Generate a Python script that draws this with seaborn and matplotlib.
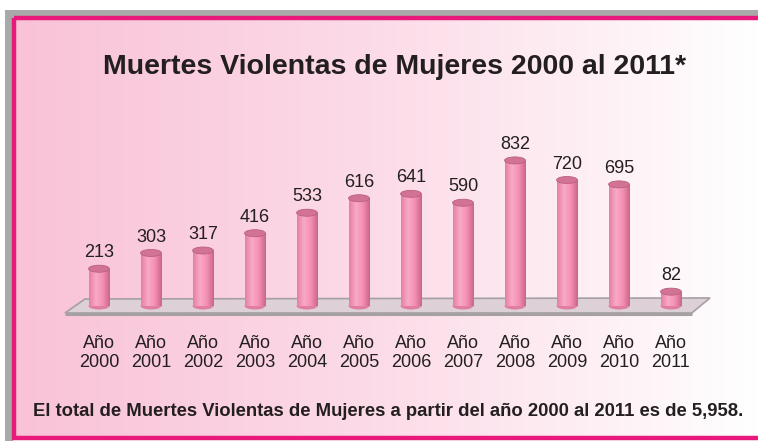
#! /usr/bin/env python3
# -*- coding: utf-8 -*-

import numpy as np
import pandas as pd
import matplotlib
matplotlib.use('Agg')
import matplotlib.pyplot as plt
from matplotlib.patches import Rectangle, Ellipse, Polygon
from matplotlib.colors import LinearSegmentedColormap
import seaborn as sns

# data
years = ['2000', '2001', '2002', '2003', '2004', '2005',
         '2006', '2007', '2008', '2009', '2010', '2011']
deaths = [213, 303, 317, 416, 533, 616, 641, 590, 832, 720, 695, 82]
tick_labels = ['Año\n' + y for y in years]
title = 'Muertes Violentas de Mujeres 2000 al 2011*'
footer = 'El total de Muertes Violentas de Mujeres a partir del año 2000 al 2011 es de 5,958.'

df = pd.DataFrame({'year': tick_labels, 'deaths': deaths})

sns.set_theme(style='white')
plt.rcParams['font.family'] = ['Liberation Sans', 'DejaVu Sans']

W, H = 758, 441
fig = plt.figure(figsize=(W / 100, H / 100), dpi=100)
fig.patch.set_facecolor('white')

# background frame (pixel coords)
bg = fig.add_axes([0, 0, 1, 1], zorder=-5)
bg.axis('off')
bg.add_patch(Rectangle((5, 10), W - 5, 8, color='#A9A9A9', lw=0))
bg.add_patch(Rectangle((5, 10), 8, H - 10, color='#A9A9A9', lw=0))
grad = np.linspace(0, 1, 256).reshape(1, -1)
pink_cmap = LinearSegmentedColormap.from_list('bgp', ['#F9C2D7', '#FCDCE8', '#FFFFFF'])
bg.imshow(grad, cmap=pink_cmap, extent=[14, W, 438, 18], aspect='auto', zorder=0)
bg.add_patch(Rectangle((14, 18), W + 20, 420, fill=False, ec='#E8197A', lw=3.2, zorder=2))
bg.set_xlim(0, W)
bg.set_ylim(H, 0)

# main axes
ax = fig.add_axes([47 / W, 1 - 316.5 / H, 676 / W, 185.5 / H])
ax.patch.set_alpha(0)
sns.barplot(data=df, x='year', y='deaths', color='#F38DB2', width=0.4,
            saturation=1, linewidth=0, edgecolor='none', ax=ax, zorder=3)

# floor
floor = Polygon([(-0.654, -40), (-0.27, 40), (11.75, 46), (11.40, -40)],
                closed=True, fc='#DDD0D6', ec='#A5A0A2', lw=1.2, zorder=1)
ax.add_patch(floor)
ax.plot([-0.654, 11.40], [-44, -44], color='#A5A0A2', lw=2.2, zorder=1,
        solid_capstyle='butt')

# cylinder shading
cyl = LinearSegmentedColormap.from_list('cyl', ['#E57FA3', '#F9A9C6', '#F48FB3', '#C86589'])
for p in list(ax.patches):
    if not isinstance(p, Rectangle):
        continue
    x0, w, h = p.get_x(), p.get_width(), p.get_height()
    ax.add_patch(Ellipse((x0 + w / 2, 0), w, 40, fc='#E07FA2', ec='none', zorder=2.5))
    im = ax.imshow(grad, cmap=cyl, extent=[x0, x0 + w, 0, h], aspect='auto', zorder=3.5)
    im.set_clip_path(p)
    ax.add_patch(Ellipse((x0 + w / 2, h), w, 40, fc='#D27395', ec='#B9607F', lw=0.6, zorder=4))

for i, v in enumerate(deaths):
    ax.annotate(str(v), (i, v), xytext=(0, 11.5), textcoords='offset points',
                ha='center', va='center', fontsize=13, color='#231F20')

ax.set_xlim(-1, 12)
ax.set_ylim(-60, 1000)
ax.set_xlabel('')
ax.set_ylabel('')
ax.set_yticks([])
ax.set_xticks(range(len(tick_labels)))
ax.set_xticklabels(tick_labels, fontsize=13, color='#231F20', linespacing=1.2)
ax.tick_params(axis='x', length=0, pad=13)
sns.despine(ax=ax, left=True, bottom=True)

fig.text(395 / W, 1 - 67 / H, title, ha='center', va='center', fontsize=20.5,
         fontweight='bold', color='#231F20')
fig.text(388 / W, 1 - 411 / H, footer, ha='center', va='center', fontsize=13.3,
         fontweight='bold', color='#231F20')

fig.savefig('out.png', dpi=100)
